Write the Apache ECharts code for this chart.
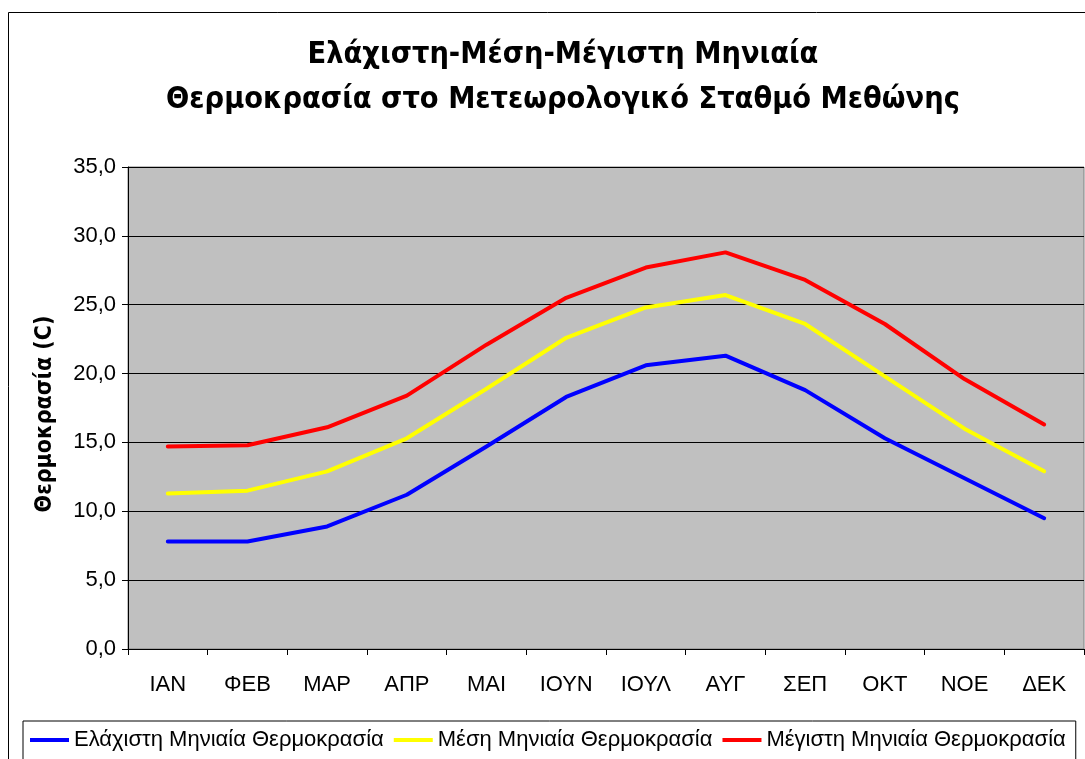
<!DOCTYPE html>
<html>
<head>
<meta charset="utf-8">
<script src="https://cdn.jsdelivr.net/npm/echarts@6/dist/echarts.min.js"></script>
<style>
  html, body { margin: 0; padding: 0; background: #ffffff; }
  #chart { width: 1085px; height: 759px; }
</style>
</head>
<body>
<div id="chart"></div>
<script>
// Months (Greek abbreviations)
const months = ['ΙΑΝ', 'ΦΕΒ', 'ΜΑΡ', 'ΑΠΡ', 'ΜΑΙ', 'ΙΟΥΝ', 'ΙΟΥΛ', 'ΑΥΓ', 'ΣΕΠ', 'ΟΚΤ', 'ΝΟΕ', 'ΔΕΚ'];

// Monthly temperatures (°C) at the Methoni weather station
const minTemp  = [7.8, 7.8, 8.9, 11.2, 14.7, 18.3, 20.6, 21.3, 18.8, 15.3, 12.4, 9.5];
const meanTemp = [11.3, 11.5, 12.9, 15.3, 18.9, 22.6, 24.8, 25.7, 23.6, 19.8, 16.0, 12.9];
const maxTemp  = [14.7, 14.8, 16.1, 18.4, 22.1, 25.5, 27.7, 28.8, 26.8, 23.6, 19.6, 16.3];

const seriesNames = [
  'Ελάχιστη Μηνιαία Θερμοκρασία',
  'Μέση Μηνιαία Θερμοκρασία',
  'Μέγιστη Μηνιαία Θερμοκρασία'
];

const labelFont = '"Liberation Sans Narrow", "Liberation Sans", Arial, sans-serif';
const boldFont = '"DejaVu Sans Condensed", "DejaVu Sans", Verdana, sans-serif';

const chart = echarts.init(document.getElementById('chart'), null, { renderer: 'canvas' });

function lineSeries(name, data, color) {
  return {
    name: name,
    type: 'line',
    data: data,
    symbol: 'none',
    lineStyle: { color: color, width: 4, cap: 'round', join: 'round' },
    itemStyle: { color: color },
    animation: false
  };
}

chart.setOption({
  animation: false,
  backgroundColor: '#ffffff',
  graphic: [
    {
      // outer chart frame
      type: 'rect',
      shape: { x: 8.5, y: 12.5, width: 1200, height: 800 },
      style: { fill: 'none', stroke: '#000000', lineWidth: 1 },
      z: -1
    },
    {
      // value axis title
      type: 'text',
      x: 45,
      y: 414,
      rotation: Math.PI / 2,
      style: {
        text: 'Θερμοκρασία (C)',
        fill: '#000000',
        font: 'bold 23px ' + boldFont,
        align: 'center',
        verticalAlign: 'middle'
      }
    }
  ],
  title: {
    text: 'Ελάχιστη-Μέση-Μέγιστη Μηνιαία\nΘερμοκρασία στο Μετεωρολογικό Σταθμό Μεθώνης',
    left: 558,
    textAlign: 'center',
    top: 28,
    textStyle: {
      fontFamily: boldFont,
      fontWeight: 'bold',
      fontSize: 30.4,
      lineHeight: 45,
      color: '#000000'
    }
  },
  legend: {
    left: 23,
    top: 721,
    padding: [8, 10, 12, 7],
    itemGap: 10,
    itemWidth: 39,
    itemHeight: 4,
    borderColor: '#000000',
    borderWidth: 1,
    icon: 'rect',
    data: seriesNames,
    textStyle: { fontFamily: labelFont, fontSize: 22, color: '#000000' }
  },
  grid: {
    left: 128,
    right: 1,
    top: 167,
    bottom: 110,
    show: true,
    backgroundColor: '#c0c0c0',
    borderColor: '#808080',
    borderWidth: 1
  },
  xAxis: {
    type: 'category',
    data: months,
    boundaryGap: true,
    axisLine: { lineStyle: { color: '#000000', width: 1 } },
    axisTick: { show: true, length: 6, lineStyle: { color: '#000000' } },
    axisLabel: {
      margin: 25,
      fontFamily: labelFont,
      fontSize: 22,
      color: '#000000'
    },
    splitLine: { show: false }
  },
  yAxis: {
    type: 'value',
    min: 0,
    max: 35,
    interval: 5,
    axisLine: { show: true, lineStyle: { color: '#000000', width: 1 } },
    axisTick: { show: true, length: 6, lineStyle: { color: '#000000' } },
    axisLabel: {
      margin: 12,
      fontFamily: labelFont,
      fontSize: 22,
      color: '#000000',
      formatter: function (v) { return v.toFixed(1).replace('.', ','); }
    },
    splitLine: { show: true, lineStyle: { color: '#000000', width: 1 } }
  },
  series: [
    lineSeries(seriesNames[0], minTemp, '#0000ff'),
    lineSeries(seriesNames[1], meanTemp, '#ffff00'),
    lineSeries(seriesNames[2], maxTemp, '#ff0000')
  ]
});
</script>
</body>
</html>
